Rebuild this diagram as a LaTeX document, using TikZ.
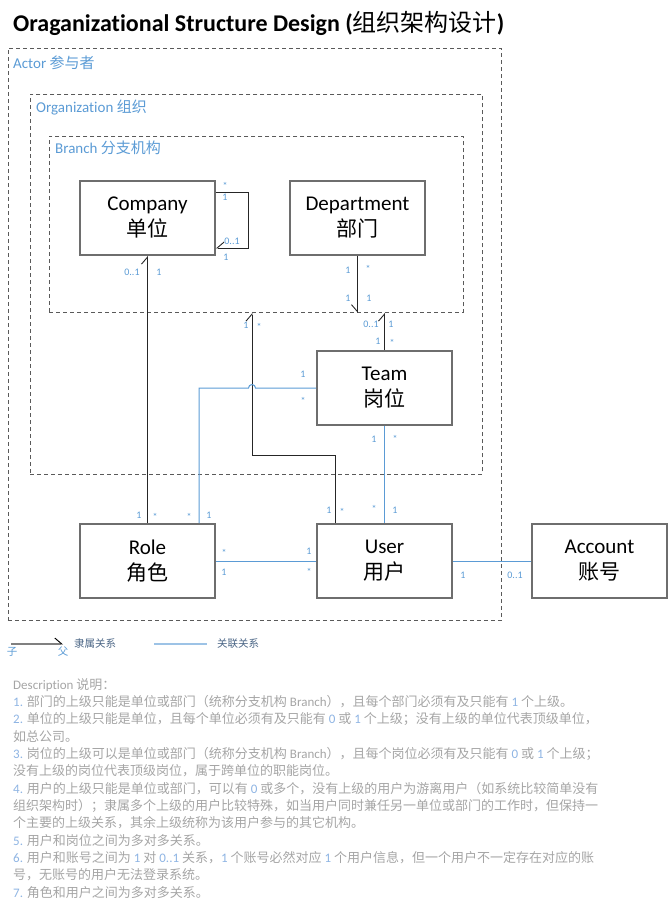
\documentclass[tikz,border=0pt]{standalone}
\usepackage{fontspec}
\setmainfont{Carlito}[Ligatures={NoCommon}]
\newfontfamily\cjkfont{Noto Sans CJK SC}
\newcommand\zh[1]{{\cjkfont #1}}
\usetikzlibrary{arrows.meta}
\definecolor{boxgray}{HTML}{6E6E6E}
\definecolor{dashgray}{HTML}{5A5A5A}
\definecolor{linkblue}{HTML}{5B9BD5}
\definecolor{lblblue}{HTML}{5B9BD5}
\definecolor{descgray}{HTML}{A5A5A5}
\definecolor{descblue}{HTML}{8EB4E3}
\definecolor{legdark}{HTML}{4A6585}
\newcommand\nb[1]{\textcolor{descblue}{#1}}
\tikzset{
 entity/.style={draw=boxgray, line width=1.8pt, fill=white, minimum width=135pt, minimum height=74pt, inner sep=0pt, align=center, font=\fontsize{21}{26}\selectfont},
 container/.style={draw=dashgray, dash pattern=on 4pt off 3pt, line width=0.9pt, inner sep=0pt, anchor=north west},
 clabel/.style={anchor=base west, inner sep=0pt, text=lblblue, font=\fontsize{15}{18}\selectfont},
 own/.style={draw=black!85, line width=0.9pt},
 assoc/.style={draw=linkblue, line width=1pt},
 barbL/.style={-{Straight Barb[harpoon,length=7pt,width=12pt,line width=0.9pt]}},
 barbR/.style={-{Straight Barb[harpoon,swap,length=7pt,width=12pt,line width=0.9pt]}},
 ml/.style={inner sep=0pt, text=lblblue, font=\fontsize{10}{12}\selectfont},
 mstar/.style={ml, yshift=-2pt},
 desc/.style={anchor=base west, inner sep=0pt, text=descgray, font=\fontsize{13}{16}\selectfont},
 legtxt/.style={anchor=west, inner sep=0pt, text=legdark, font=\fontsize{10.5}{12}\selectfont},
}
\begin{document}
\begin{tikzpicture}[x=1pt,y=-1pt]
\useasboundingbox (0,0) rectangle (668,910);
% title
\node[anchor=base west, inner sep=0pt, font=\fontsize{24}{28}\selectfont\bfseries] (title) at (13,31) {Oraganizational Structure Design ({\mdseries\cjkfont 组织架构设计})};
% containers
\node[container, minimum width=493.5pt, minimum height=572pt] (actor) at (7.5,48) {};
\node[container, minimum width=452pt, minimum height=380pt] (org) at (30,94) {};
\node[container, minimum width=414pt, minimum height=176pt] (branch) at (49,136) {};
\node[clabel] (actorl) at (13,68) {Actor \zh{参与者}};
\node[clabel] (orgl) at (36,112) {Organization \zh{组织}};
\node[clabel] (branchl) at (55,153) {Branch \zh{分支机构}};
% entities
\node[entity] (company) at (147.5,218) {Company\\\zh{单位}};
\node[entity] (dept) at (357.5,218) {Department\\\zh{部门}};
\node[entity] (team) at (384.5,388) {Team\\\zh{岗位}};
\node[entity] (role) at (147.5,561) {Role\\\zh{角色}};
\node[entity] (user) at (384.5,561) {User\\\zh{用户}};
\node[entity] (account) at (599.5,561) {Account\\\zh{账号}};
% helper coordinates
\coordinate (loopT) at (248,192);
\coordinate (loopB) at (248,248);
\coordinate (uIn) at (335,455);
\coordinate (uBend) at (252,455);
\coordinate (hopR) at (255.5,388);
\coordinate (rBend) at (199,388);
% ownership connectors
\draw[own, barbR] (company.east |- loopT) -- (loopT) -- (loopB) -- (company.east |- loopB);
\draw[own, barbL] (role.north) -- (company.south);
\draw[own, barbR] (dept.south) -- (dept.south |- branch.south);
\draw[own, barbL] (team.north) -- (team.north |- branch.south);
\draw[own, barbL] (uIn |- user.north) -- (uIn) -- (uBend) -- (uBend |- branch.south);
% association connectors
\draw[assoc] (team.west) -- (hopR) arc[start angle=0, end angle=-180, radius=3.5] -- (rBend) -- (rBend |- role.north);
\draw[assoc] (team.south) -- (user.north);
\draw[assoc] (role.east) -- (user.west);
\draw[assoc] (user.east) -- (account.west);
% multiplicities
\node[mstar] (m1) at (225,184) {*};
\node[ml] (m2) at (225,197) {1};
\node[ml] (m3) at (232,241) {0..1};
\node[ml] (m4) at (226,257) {1};
\node[ml] (m5) at (132,272) {0..1};
\node[ml] (m6) at (159,272) {1};
\node[ml] (m7) at (348,270) {1};
\node[mstar] (m8) at (368,267) {*};
\node[ml] (m9) at (348,298) {1};
\node[ml] (m10) at (369,298) {1};
\node[ml] (m11) at (371,324) {0..1};
\node[ml] (m12) at (391,324) {1};
\node[ml] (m13) at (378,341) {1};
\node[mstar] (m14) at (392,341) {*};
\node[ml] (m15) at (246,325) {1};
\node[mstar] (m16) at (259,325) {*};
\node[ml] (m17) at (303,374) {1};
\node[mstar] (m18) at (303,399) {*};
\node[ml] (m19) at (374,439) {1};
\node[mstar] (m20) at (395,437) {*};
\node[ml] (m21) at (139,515) {1};
\node[mstar] (m22) at (155,515) {*};
\node[mstar] (m23) at (189,515) {*};
\node[ml] (m24) at (209,515) {1};
\node[ml] (m25) at (329,510) {1};
\node[mstar] (m26) at (342,510) {*};
\node[mstar] (m27) at (374,507) {*};
\node[ml] (m28) at (395,510) {1};
\node[mstar] (m29) at (224,551) {*};
\node[ml] (m30) at (224,572) {1};
\node[ml] (m31) at (309,551) {1};
\node[mstar] (m32) at (309,570) {*};
\node[ml] (m33) at (463,575) {1};
\node[ml] (m34) at (515,575) {0..1};
% legend
\coordinate (legA) at (11,644);
\coordinate (legB) at (63,644);
\coordinate (legC) at (154,644);
\coordinate (legD) at (207,644);
\draw[draw=black!50, line width=1.8pt, -{Straight Barb[harpoon,length=7pt,width=12pt,line width=0.9pt,color=black]}] (legA) -- (legB);
\draw[draw=linkblue!60, line width=1.8pt] (legC) -- (legD);
\node[ml, font=\fontsize{10.5}{12}\selectfont] (lz) at (12,652) {\zh{子}};
\node[ml, font=\fontsize{10.5}{12}\selectfont] (lf) at (63,652) {\zh{父}};
\node[legtxt] (l1) at (74,644) {\zh{隶属关系}};
\node[legtxt] (l2) at (217,644) {\zh{关联关系}};
% description
\node[desc] (d0) at (13,689) {Description \zh{说明：}};
\node[desc] (d1) at (13,706.3) {\nb{1.} \zh{部门的上级只能是单位或部门（统称分支机构} Branch\zh{），且每个部门必须有及只能有} \nb{1} \zh{个上级。}};
\node[desc] (d2) at (13,723.7) {\nb{2.} \zh{单位的上级只能是单位，且每个单位必须有及只能有} \nb{0} \zh{或} \nb{1} \zh{个上级；没有上级的单位代表顶级单位，}};
\node[desc] (d3) at (13,741) {\zh{如总公司。}};
\node[desc] (d4) at (13,758.4) {\nb{3.} \zh{岗位的上级可以是单位或部门（统称分支机构} Branch\zh{），且每个岗位必须有及只能有} \nb{0} \zh{或} \nb{1} \zh{个上级；}};
\node[desc] (d5) at (13,775.7) {\zh{没有上级的岗位代表顶级岗位，属于跨单位的职能岗位。}};
\node[desc] (d6) at (13,793) {\nb{4.} \zh{用户的上级只能是单位或部门，可以有} \nb{0} \zh{或多个，没有上级的用户为游离用户（如系统比较简单没有}};
\node[desc] (d7) at (13,810.4) {\zh{组织架构时）；隶属多个上级的用户比较特殊，如当用户同时兼任另一单位或部门的工作时，但保持一}};
\node[desc] (d8) at (13,827.7) {\zh{个主要的上级关系，其余上级统称为该用户参与的其它机构。}};
\node[desc] (d9) at (13,845) {\nb{5.} \zh{用户和岗位之间为多对多关系。}};
\node[desc] (d10) at (13,862.4) {\nb{6.} \zh{用户和账号之间为} \nb{1} \zh{对} \nb{0..1} \zh{关系，}\nb{1} \zh{个账号必然对应} \nb{1} \zh{个用户信息，但一个用户不一定存在对应的账}};
\node[desc] (d11) at (13,879.7) {\zh{号，无账号的用户无法登录系统。}};
\node[desc] (d12) at (13,897) {\nb{7.} \zh{角色和用户之间为多对多关系。}};
\end{tikzpicture}
\end{document}
